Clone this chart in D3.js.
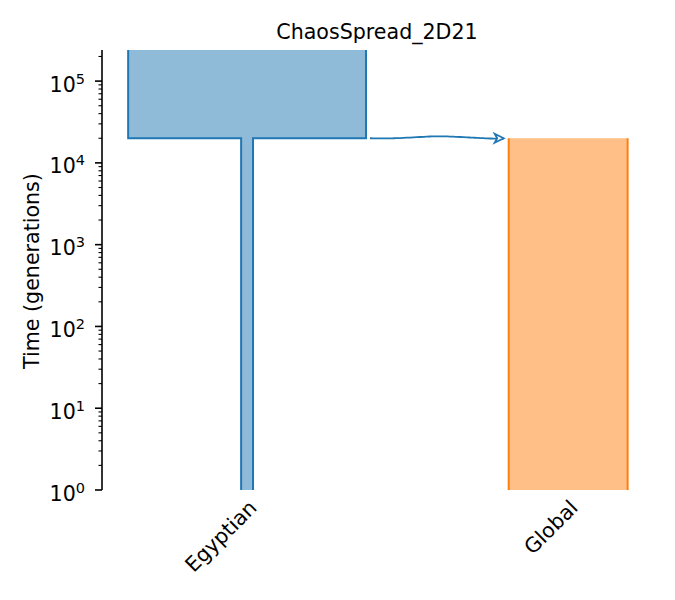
<!DOCTYPE html>
<html><head><meta charset="utf-8">
<script src="https://cdn.jsdelivr.net/npm/d3@7"></script>
<style>body{margin:0;background:#fff}svg{display:block}text{font-family:"DejaVu Sans",sans-serif;fill:#000}</style>
</head><body>
<svg id="c" width="675" height="600"></svg>
<script>
const title = "ChaosSpread_2D21";
const demeNames = ["Egyptian", "Global"];
const demePositions = [0, 27000];
// epochs: [deme, startTime, endTime, size]
const epochDeme = ["Egyptian", "Egyptian", "Global"];
const epochStart = [240000, 20000, 20000];
const epochEnd = [20000, 1, 1];
const epochSize = [20000, 1000, 10000];
const ancestryFrom = ["Egyptian"];
const ancestryTo = ["Global"];
const ancestryTime = [20000];
const yTicks = [1, 10, 100, 1000, 10000, 100000];
const colors = {Egyptian: "#1f77b4", Global: "#ff7f0e"};
const fills = {Egyptian: "#8fbbd9", Global: "#ffbf86"};

const svg = d3.select("#c");
const L = 102, R = 652, T = 50, B = 490;
const FS = 20.6;
const x = d3.scaleLinear().domain([-12200, 34050]).range([L, R]);
const y = d3.scaleLog().domain([1, 240000]).range([B, T]);
const wpx = s => x(s) - x(0);
const pos = n => demePositions[demeNames.indexOf(n)];

svg.append("defs").append("clipPath").attr("id", "clip")
  .append("rect").attr("x", L).attr("y", T).attr("width", R - L).attr("height", B - T);
const g = svg.append("g").attr("clip-path", "url(#clip)");

demeNames.forEach(name => {
  const idx = epochDeme.map((d, i) => d === name ? i : -1).filter(i => i >= 0);
  const cx = x(pos(name));
  const left = [], right = [];
  idx.forEach(i => {
    const hw = wpx(epochSize[i]) / 2;
    const top = y(epochStart[i]) - (epochStart[i] >= 240000 ? 10 : 0);
    left.push([cx - hw, top], [cx - hw, y(epochEnd[i])]);
    right.push([cx + hw, top], [cx + hw, y(epochEnd[i])]);
  });
  const poly = left.concat(right.slice().reverse());
  g.append("path").attr("d", d3.line()(poly)).attr("fill", fills[name]).attr("stroke", "none");
  g.append("path").attr("d", d3.line()(left)).attr("fill", "none").attr("stroke", colors[name]).attr("stroke-width", 2);
  g.append("path").attr("d", d3.line()(right)).attr("fill", "none").attr("stroke", colors[name]).attr("stroke-width", 2);
});

// ancestry arrows
ancestryFrom.forEach((from, k) => {
  const to = ancestryTo[k];
  const t = ancestryTime[k];
  let iFrom = epochDeme.findIndex((d, i) => d === from && epochEnd[i] <= t && epochStart[i] > t);
  if (iFrom < 0) iFrom = 0;
  const iTo = epochDeme.indexOf(to);
  const x0 = x(pos(from)) + wpx(epochSize[iFrom]) / 2 + 4;
  const x1 = x(pos(to)) - wpx(epochSize[iTo]) / 2 - 5;
  const yy = y(t);
  const pts = d3.range(0, 41).map(j => {
    const f = j / 40;
    return [x0 + (x1 - x0) * f, yy + 0.6 * Math.sin(2 * Math.PI * f) * (f < 0.5 ? 1 : 0) - 2.2 * Math.pow(Math.sin(Math.PI * f), 2) + 0.5 * f];
  });
  svg.append("path").attr("d", d3.line().curve(d3.curveBasis)(pts))
    .attr("fill", "none").attr("stroke", colors[from]).attr("stroke-width", 1.8);
  svg.append("path").attr("d", `M${x1},${yy} L${x1 - 9},${yy - 4.5} L${x1 - 6.5},${yy} L${x1 - 9},${yy + 4.5} Z`)
    .attr("fill", "#fff").attr("stroke", colors[from]).attr("stroke-width", 1.8).attr("stroke-linejoin", "miter");
});

// y axis
const ax = svg.append("g");
ax.append("line").attr("x1", L).attr("x2", L).attr("y1", T).attr("y2", B).attr("stroke", "#000").attr("stroke-width", 1.6);
const minor = [];
for (let e = 0; e <= 5; e++) for (let m = 2; m <= 9; m++) { const v = m * Math.pow(10, e); if (v <= 240000) minor.push(v); }
ax.selectAll(".mn").data(minor).join("line").attr("x1", L - 3.5).attr("x2", L).attr("y1", d => y(d)).attr("y2", d => y(d)).attr("stroke", "#000").attr("stroke-width", 1.1);
ax.selectAll(".mj").data(yTicks).join("line").attr("x1", L - 7).attr("x2", L).attr("y1", d => y(d)).attr("y2", d => y(d)).attr("stroke", "#000").attr("stroke-width", 1.6);
const tl = ax.selectAll(".tl").data(yTicks).join("text").attr("x", L - 17).attr("y", d => y(d) + 10.5)
  .attr("text-anchor", "end").style("font-size", FS + "px");
tl.append("tspan").text("10");
tl.append("tspan").attr("dy", -8).style("font-size", "14.5px").text(d => Math.round(Math.log10(d)));

svg.append("text").attr("transform", "translate(39,271) rotate(-90)").attr("text-anchor", "middle")
  .style("font-size", FS + "px").text("Time (generations)");
svg.append("text").attr("x", (L + R) / 2).attr("y", 39).attr("text-anchor", "middle")
  .style("font-size", FS + "px").text(title);

demeNames.forEach(name => {
  const px = x(pos(name));
  svg.append("text").attr("transform", `translate(${px + 11},${509}) rotate(-45)`)
    .attr("text-anchor", "end").style("font-size", FS + "px").text(name);
});
</script>
</body></html>
